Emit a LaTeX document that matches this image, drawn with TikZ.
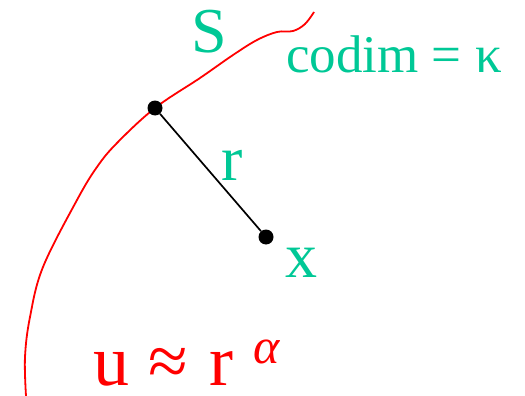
\documentclass[tikz,border=0pt]{standalone}
\usepackage{fontspec}
\setmainfont{Liberation Serif}
\definecolor{lblgreen}{RGB}{0,200,150}
\definecolor{curvered}{RGB}{255,0,0}
\begin{document}
\begin{tikzpicture}[x=1pt,y=-1pt,
  dot/.style={circle,fill=black,inner sep=0pt,minimum size=15pt},
  lbl/.style={text=lblgreen,inner sep=0pt,anchor=base west},
  redlbl/.style={text=curvered,inner sep=0pt,anchor=base west}]
\useasboundingbox (0,0) rectangle (525,396);
\draw[curvered,line width=1.8pt] plot[smooth,tension=0.6] coordinates {
  (314,12) (305,24) (293,31) (277,32) (257,40) (233,55) (200,78) (155,108)
  (117,143) (97,167) (77,200) (43,267) (30,317) (25,357) (26,396)};
\node[dot] (p) at (155,108) {};
\node[dot] (q) at (266,237) {};
\draw[line width=1.7pt] (p) -- (q);
\node[lbl,font=\fontsize{64}{70}\selectfont] (S) at (191,53) {S};
\node[lbl,font=\fontsize{53}{58}\selectfont] (codim) at (286,73) {codim = κ};
\node[lbl,font=\fontsize{64}{70}\selectfont] (r) at (221,180) {r};
\node[lbl,font=\fontsize{64}{70}\selectfont] (x) at (285,277) {x};
\node[redlbl,font=\fontsize{72}{76}\selectfont] (u) at (93,385) {u};
\node[redlbl,font=\fontsize{72}{76}\selectfont] (approx) at (148,385) {≈};
\node[redlbl,font=\fontsize{72}{76}\selectfont] (rr) at (209,385) {r};
\node[redlbl,font=\fontsize{50}{54}\selectfont\itshape] (alpha) at (253,363) {α};
\end{tikzpicture}
\end{document}
